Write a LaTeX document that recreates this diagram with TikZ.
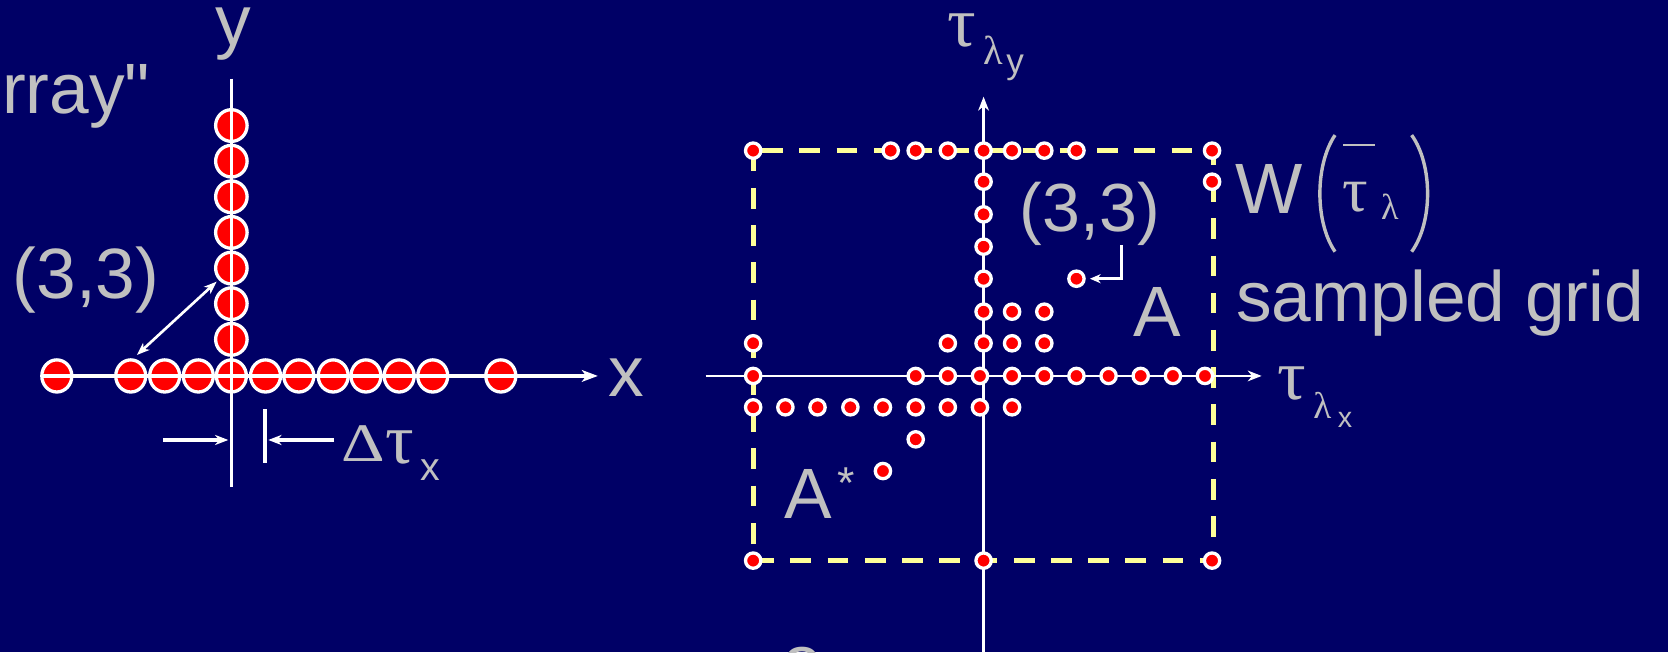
\documentclass[tikz,border=0pt]{standalone}
\usepackage{fontspec}
\usetikzlibrary{arrows.meta,shapes.geometric}
\newfontfamily\lsans{Liberation Sans}
\newfontfamily\lserif{Liberation Serif}
\newcommand\fsz[1]{\fontsize{#1}{#1}\selectfont}
\definecolor{navybg}{HTML}{000066}
\definecolor{labgrey}{HTML}{C0C0C0}
\definecolor{dashyel}{HTML}{FFFF99}
\begin{document}
\begin{tikzpicture}[x=1pt,y=-1pt,
  lbl/.style={text=labgrey,inner sep=0pt,outer sep=0pt,anchor=base,font=\lsans\fsz{67}},
  gk/.style={text=labgrey,inner sep=0pt,outer sep=0pt,anchor=base},
  bigcx/.style={ellipse,draw=white,fill=red,line width=3.1pt,minimum width=28.2pt,minimum height=30.2pt,inner sep=0pt},
  bigcy/.style={ellipse,draw=white,fill=red,line width=3.1pt,minimum width=29.6pt,minimum height=29.8pt,inner sep=0pt},
  rdot/.style={circle,draw=white,fill=red,line width=3.1pt,minimum size=14.4pt,inner sep=0pt},
  axl/.style={draw=white,line width=3pt},
  axr/.style={draw=white,line width=2.4pt},
  dashl/.style={draw=dashyel,line width=5pt,dash pattern=on 19.5pt off 15.5pt},
  parenl/.style={draw=labgrey,line width=3.2pt},
  tipbig/.style={-{Stealth[length=15pt,width=11pt,inset=4pt]}},
  tipsm/.style={-{Stealth[length=13pt,width=10pt,inset=4pt]}},
  tipdt/.style={-{Stealth[length=12.5pt,width=9.5pt,inset=4pt]}},
  tipdbl/.style={{Stealth[length=12pt,width=9pt,inset=3.5pt]}-{Stealth[length=12pt,width=9pt,inset=3.5pt]}},
  tipr/.style={-{Stealth[length=10pt,width=8.5pt,inset=3pt]}}
]
\useasboundingbox (0,0) rectangle (1568,613);
\clip (0,0) rectangle (1568,613);
\fill[navybg] (0,0) rectangle (1568,613);

% ---------------- left diagram ----------------
\foreach \x [count=\i] in {53.4,122.9,154.8,186.4,217.5,249.6,280.9,313.2,344,375.2,406.8,470.8}
  \node[bigcx] (cx\i) at (\x,353.4) {};
\foreach \y [count=\i] in {319,285.5,252,218.5,185,151.5,118}
  \node[bigcy] (cy\i) at (217.5,\y) {};

\coordinate (lxa) at (39,353.4);
\coordinate (lxb) at (562,353.4);
\coordinate (lya) at (217.5,74);
\coordinate (lyb) at (217.5,458);
\draw[axl] (lya) -- (lyb);
\draw[axl,tipbig] (lxa) -- (lxb);

\coordinate (dA) at (203.6,264.8);
\coordinate (dB) at (128.7,333.7);
\draw[draw=white,line width=2.5pt,tipdbl] (dA) -- (dB);

\coordinate (ar1a) at (153.5,413.6);
\coordinate (ar1b) at (214.6,413.6);
\coordinate (ar2a) at (314,413.6);
\coordinate (ar2b) at (252.2,413.6);
\coordinate (tka) at (249.1,384.8);
\coordinate (tkb) at (249.1,434.9);
\draw[draw=white,line width=3pt,tipdt] (ar1a) -- (ar1b);
\draw[draw=white,line width=3pt,tipdt] (ar2a) -- (ar2b);
\draw[draw=white,line width=3pt] (tka) -- (tkb);

\node[lbl] (rray) at (71.5,106.5) {rray"};
\node[lbl,text height=0.53em] (ylab) at (219.2,42.6) {y};
\node[lbl] (xlab) at (589,372.9) {x};
\node[lbl] (l33) at (80.9,280.7) {(3,3)};
\node[gk,font=\lserif\fsz{51}] (delta) at (341.2,434) {\scalebox{1.25}[1]{Δ}};
\node[gk,font=\lserif\fsz{67}] (tau1) at (376,435.5) {τ};
\node[gk,font=\lsans\fsz{37}] (tau1x) at (405,451.8) {x};

% ---------------- right diagram ----------------
\coordinate (tl) at (708,141.6);
\coordinate (tr) at (1141,141.6);
\coordinate (bl) at (708,527);
\coordinate (br) at (1141,527);
\draw[dashl,dash phase=26.6pt] (tl) -- (tr);
\draw[dashl] (bl) -- (br);
\draw[dashl] (tl) -- (bl);
\draw[dashl,dash phase=6.4pt] (tr) -- (br);

\coordinate (rxa) at (663.4,353.4);
\coordinate (rxb) at (1186,353.4);
\coordinate (rya) at (924.6,620);
\coordinate (ryb) at (924.6,90.9);
\draw[axr,tipsm] (rxa) -- (rxb);
\draw[axr,tipsm] (rya) -- (ryb);

\foreach \p [count=\i] in {
  (708,141.6),(837.3,141.6),(860.8,141.6),(891,141.6),(924.6,141.6),(951.4,141.6),(981.7,141.6),(1011.9,141.6),(1139.4,141.6),
  (1139.4,170.8),
  (924.6,170.8),(924.6,201.5),(924.6,231.9),(924.6,262),
  (924.6,293),(951.4,293),(981.7,293),
  (708,322.7),(891,322.7),(924.6,322.7),(951.4,322.7),(981.7,322.7),
  (708,353.4),(860.8,353.4),(891,353.4),(921.2,353.4),(951.4,353.4),(981.7,353.4),(1011.9,353.4),(1042.1,353.4),(1072.3,353.4),(1102.6,353.4),(1132.7,353.4),
  (708,382.9),(738.3,382.9),(768.5,382.9),(799.4,382.9),(830,382.9),(860.8,382.9),(891,382.9),(921.2,382.9),(951.4,382.9),
  (860.8,413),(830,442.8),
  (708,527),(924.6,527),(1139.4,527)}
  \node[rdot] (d\i) at \p {};
\node[rdot] (d33) at (1011.9,262) {};

\node[lbl,font=\lsans\fsz{64}] (r33) at (1024.6,217.8) {(3,3)};
\coordinate (r33a) at (1054.4,230.3);
\coordinate (r33b) at (1024.6,262);
\draw[draw=white,line width=2.5pt,tipr] (r33a) |- (r33b);

\node[lbl] (Alab) at (1088.2,315.9) {A};
\node[lbl] (Aslab) at (759.5,487.2) {A};
\node[lbl,font=\lsans\fsz{42}] (star) at (795.4,468.6) {*};
\node[lbl] (samp) at (1353.7,302.4) {sampled grid};
\node[lbl] (Wlab) at (1193,201) {W};
\node[gk,font=\lserif\fsz{60}] (wtau) at (1274.5,199) {τ};
\node[gk,font=\lserif\fsz{34}] (wlam) at (1306.6,206.8) {λ};
\coordinate (pl1) at (1255,127);
\coordinate (pl2) at (1255,236.6);
\coordinate (pr1) at (1327,127);
\coordinate (pr2) at (1327,236.6);
\draw[parenl] (pl1) .. controls (1236,155) and (1236,209) .. (pl2);
\draw[parenl] (pr1) .. controls (1347,155) and (1347,209) .. (pr2);
\coordinate (bar1) at (1262.8,136.3);
\coordinate (bar2) at (1292.5,136.3);
\draw[draw=labgrey,line width=2.5pt] (bar1) -- (bar2);

\node[gk,font=\lserif\fsz{67},text height=0.5em] (ty) at (904,43.9) {τ};
\node[gk,font=\lserif\fsz{38}] (tyl) at (933.8,61.1) {λ};
\node[gk,font=\lsans\fsz{33}] (tyy) at (954.2,68.8) {y};
\node[gk,font=\lserif\fsz{67}] (tx) at (1214.2,376) {τ};
\node[gk,font=\lserif\fsz{35}] (txl) at (1243.2,393.3) {λ};
\node[gk,font=\lsans\fsz{27}] (txx) at (1264.3,402) {x};

\node[lbl,text height=0.53em] (botglyph) at (754.4,644.3) {o};
\end{tikzpicture}
\end{document}
